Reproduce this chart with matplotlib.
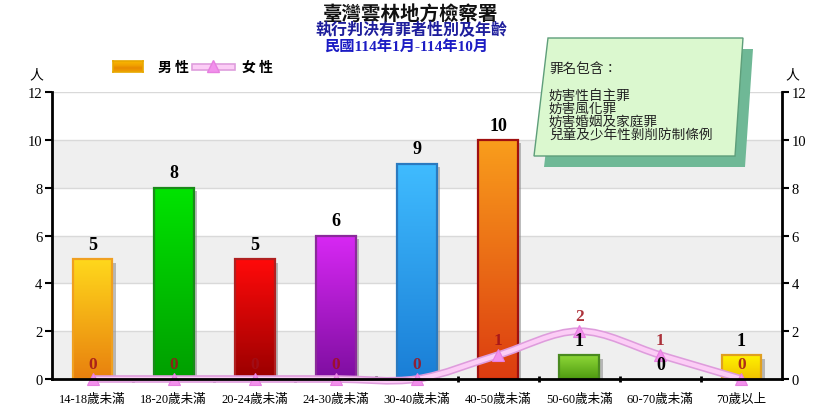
import numpy as np
import matplotlib
matplotlib.use("Agg")
import matplotlib.pyplot as plt
from matplotlib.colors import LinearSegmentedColormap
from matplotlib.patches import Polygon, PathPatch, Rectangle
from matplotlib.path import Path
from matplotlib.lines import Line2D
import matplotlib.patheffects as pe

categories = ["14-18歲未滿", "18-20歲未滿", "20-24歲未滿", "24-30歲未滿", "30-40歲未滿",
              "40-50歲未滿", "50-60歲未滿", "60-70歲未滿", "70歲以上"]
male = [5, 8, 5, 6, 9, 10, 1, 0, 1]
female = [0, 0, 0, 0, 0, 1, 2, 1, 0]
yticks = [0, 2, 4, 6, 8, 10, 12]
title1 = "臺灣雲林地方檢察署"
title2 = "執行判決有罪者性別及年齡"
title3 = "民國114年1月-114年10月"
note_lines = ["罪名包含：", "妨害性自主罪", "妨害風化罪", "妨害婚姻及家庭罪", "兒童及少年性剝削防制條例"]

# (top colour, bottom colour, edge colour)
bar_colors = [
    ("#FFD81C", "#E8800E", "#F0A020"),
    ("#00E400", "#009E00", "#1A8A1A"),
    ("#FF0A0A", "#9A0000", "#B02020"),
    ("#D828F4", "#7E0EA0", "#8A2A9A"),
    ("#40BCFF", "#1A7ED6", "#2A7AC0"),
    ("#F99E1C", "#DC3C10", "#A01010"),
    ("#8ED838", "#4E9A10", "#4A8A20"),
    ("#CCCCCC", "#999999", "#888888"),
    ("#FFF200", "#F0C200", "#E0A020"),
]

SERIF = ["Liberation Serif", "Noto Sans CJK TC", "DejaVu Sans"]
CJK = ["Noto Sans CJK TC", "DejaVu Sans"]

W, H = 820, 410
fig = plt.figure(figsize=(W / 100, H / 100), dpi=100)
fig.patch.set_facecolor("white")

def fx(x):
    return x / W

def fy(y):
    return 1 - y / H

L, R, T, B = 52, 782, 93, 380
ax = fig.add_axes([fx(L), fy(B), fx(R) - fx(L), fy(T) - fy(B)])
ax.set_facecolor("white")
n = len(categories)
x = np.arange(n)
ax.set_xlim(-0.5, n - 0.5)
ax.set_ylim(0, 12)

# bands and grid
for lo in (0, 4, 8):
    ax.axhspan(lo, lo + 2, color="#EFEFEF", zorder=0, lw=0)
for yv in yticks[1:]:
    ax.axhline(yv, color="#D9D9D9", lw=1, zorder=0.5)

bw = 0.49
bars = ax.bar(x, male, width=bw, facecolor="#999999", edgecolor="none", zorder=2,
              path_effects=[pe.SimplePatchShadow(offset=(2.5, -2.5), shadow_rgbFace="#888888", alpha=0.55), pe.Normal()])
grad = np.linspace(0, 1, 256).reshape(-1, 1)
for i, (b, v) in enumerate(zip(bars, male)):
    if v <= 0:
        b.set_visible(False)
        continue
    top, bot, edge = bar_colors[i]
    cmap = LinearSegmentedColormap.from_list(f"c{i}", [bot, top])
    x0 = b.get_x()
    im = ax.imshow(grad, extent=[x0, x0 + bw, 0, v], origin="lower", aspect="auto",
                   cmap=cmap, zorder=3, interpolation="bilinear")
    im.set_clip_path(b)
    ax.add_patch(Rectangle((x0, 0), bw, v, facecolor="none", edgecolor=edge, lw=1.6, zorder=4))
ax.set_xlim(-0.5, n - 0.5)
ax.set_ylim(0, 12)
ax.set_aspect("auto")

# male labels
for xi, v in zip(x, male):
    ax.text(xi, v + 0.62, str(v), ha="center", va="center", fontsize=13, fontweight="bold",
            family=SERIF, color="black", zorder=8)

# female smooth line (Catmull-Rom through the points)
pts = np.column_stack([x, female]).astype(float)
verts = [tuple(pts[0])]
codes = [Path.MOVETO]
for i in range(n - 1):
    p0 = pts[i - 1] if i > 0 else pts[i]
    p1 = pts[i]
    p2 = pts[i + 1]
    p3 = pts[i + 2] if i + 2 < n else pts[i + 1]
    c1 = p1 + (p2 - p0) / 6
    c2 = p2 - (p3 - p1) / 6
    verts += [tuple(c1), tuple(c2), tuple(p2)]
    codes += [Path.CURVE4] * 3
curve = PathPatch(Path(verts, codes), fill=False, edgecolor="#FCCDF6", lw=3.2, zorder=5,
                  path_effects=[pe.Stroke(linewidth=5.5, foreground="#DE9CDC"), pe.Normal()])
curve.set_clip_on(False)
ax.add_patch(curve)
ax.plot(x, female, linestyle="none", marker="^", markersize=9, color="#F290EC",
        markeredgecolor="#E77FE0", markeredgewidth=0.8, zorder=6, clip_on=False)
for xi, v in zip(x, female):
    ax.text(xi, v + 0.62, str(v), ha="center", va="center", fontsize=12.5, fontweight="bold",
            family=SERIF, color="#A0101A", alpha=0.85, zorder=6)

# axes styling
ax.spines["top"].set_visible(False)
for s in ("left", "right", "bottom"):
    ax.spines[s].set_linewidth(2)
    ax.spines[s].set_color("black")
ax.spines["bottom"].set_zorder(7)
ax.set_yticks(yticks)
ax.set_yticklabels([str(t) for t in yticks], family=SERIF, fontsize=10.5)
ax.tick_params(axis="y", which="both", direction="out", length=5, width=1.5, pad=2,
               left=True, right=True, labelleft=True, labelright=True)
ax.set_xticks(x)
ax.set_xticklabels(categories, family=SERIF, fontsize=9)
ax.tick_params(axis="x", which="major", length=0, pad=10)
ax.set_xticks(np.arange(0.5, n - 1, 1), minor=True)
ax.tick_params(axis="x", which="minor", length=4, width=2, direction="inout")

# unit labels
fig.text(fx(36), fy(75), "人", family=CJK, fontsize=10, ha="center", va="center")
fig.text(fx(792), fy(75), "人", family=CJK, fontsize=10, ha="center", va="center")

# titles
fig.text(fx(411), fy(14), title1, family=CJK, fontsize=14, fontweight="bold", ha="center", va="center", color="#111111")
fig.text(fx(411), fy(30), title2, family=CJK, fontsize=11.5, fontweight="bold", ha="center", va="center", color="#1E1E9C")
fig.text(fx(406), fy(47), title3, family=SERIF, fontsize=11, fontweight="bold", ha="center", va="center", color="#1C1CC4")

# legend
lax = fig.add_axes([fx(113), fy(73), fx(143) - fx(113), fy(62) - fy(73)])
lax.imshow(np.array([[0.0], [0.35], [1.0], [0.6]]), aspect="auto", interpolation="bilinear",
           cmap=LinearSegmentedColormap.from_list("leg", ["#F7B000", "#E88A00"]))
lax.set_xticks([]); lax.set_yticks([])
for s in lax.spines.values():
    s.set_color("#E8A800")
    s.set_linewidth(1.2)
fig.text(fx(158), fy(68), "男 性", family=CJK, fontsize=10, ha="left", va="center", fontweight="bold")
leg_line = Line2D([fx(195), fx(232)], [fy(68), fy(68)], transform=fig.transFigure, color="#FCCDF6", lw=3.2,
                  path_effects=[pe.Stroke(linewidth=5.5, foreground="#DE9CDC"), pe.Normal()])
fig.add_artist(leg_line)
fig.add_artist(Line2D([fx(213)], [fy(67)], transform=fig.transFigure, marker="^", markersize=9,
                      color="#F290EC", markeredgecolor="#E77FE0", linestyle="none"))
fig.text(fx(242), fy(68), "女 性", family=CJK, fontsize=10, ha="left", va="center", fontweight="bold")

# note box
box = [(548, 39), (743, 39), (735, 157), (534, 157)]
shadow = [(px + 10, py + 11) for px, py in box]
fig.add_artist(Polygon([(fx(a), fy(b)) for a, b in shadow], closed=True, transform=fig.transFigure,
                       facecolor="#6FB896", edgecolor="none", zorder=8))
fig.add_artist(Polygon([(fx(a), fy(b)) for a, b in box], closed=True, transform=fig.transFigure,
                       facecolor="#DBF8CF", edgecolor="#5E9E7A", lw=1, zorder=9))
ys = [69, 96, 109, 122, 135]
for t, yy in zip(note_lines, ys):
    fig.text(fx(549), fy(yy), t, family=CJK, fontsize=9.8, ha="left", va="center", color="#222222", zorder=10)

fig.savefig("out.png", dpi=100, facecolor="white")
